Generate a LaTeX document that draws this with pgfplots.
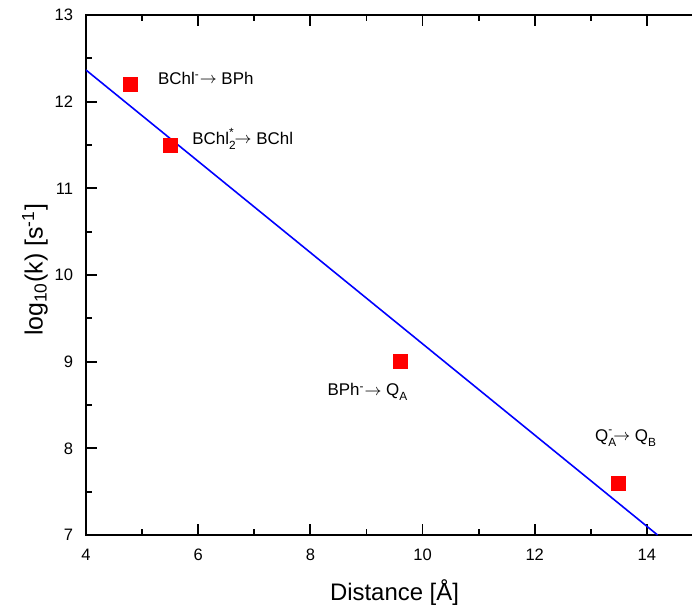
\documentclass[border=0pt]{standalone}
\usepackage{fontspec}
\setmainfont{Liberation Sans}
\usepackage{pgfplots}
\pgfplotsset{compat=1.18}
\usetikzlibrary{calc}

\newcommand{\arr}{\raisebox{0.1ex}{$\rightarrow$}}

\begin{document}
\begin{tikzpicture}
\begin{axis}[
    name=main,
    scale only axis,
    width=308.5bp,
    height=260bp,
    xmin=4, xmax=15,
    ymin=7, ymax=13,
    xtick={4,6,...,14},
    ytick={7,8,...,13},
    minor x tick num=1,
    minor y tick num=1,
    tick align=inside,
    xtick pos=both,
    ytick pos=left,
    major tick length=5.5bp,
    minor tick length=3bp,
    axis line style={line width=0.9pt},
    every tick/.style={black, line width=0.9pt},
    /pgf/number format/assume math mode=true,
    ticklabel style={font=\fontsize{8.3}{10}\selectfont},
    xticklabel style={yshift=-3.3bp},
    yticklabel style={xshift=-3bp},
    xlabel={Distance [Å]},
    ylabel={log\textsubscript{10}(k) [s\textsuperscript{-1}]},
    label style={font=\fontsize{12}{14.4}\selectfont},
    xlabel style={at={(axis description cs:0.5,-0.1115)}, anchor=center},
    ylabel style={at={(axis description cs:-0.0827,0.51)}, anchor=center, rotate=0, font=\fontsize{12.5}{15}\selectfont},
    clip=true,
]
\addplot[blue, line width=0.8pt] coordinates {(4,12.365) (14.19,7)};
\addplot[only marks, mark=square*, mark size=3.5bp, color=red] coordinates {
  (4.8,12.2) (5.5,11.5) (9.6,9.0) (13.5,7.6)
};
\begin{scope}[every node/.style={font=\fontsize{8.5}{10}\selectfont, inner sep=0pt, anchor=west}]
\node at (axis cs:5.28,12.27) {BChl\textsuperscript{-}\arr\ BPh};
\node at (axis cs:5.89,11.57) {BChl\rlap{\raisebox{-0.2ex}{\textsubscript{2}}}\raisebox{0.3ex}{\textsuperscript{*}}\arr\ BChl};
\node at (axis cs:8.30,8.65) {BPh\textsuperscript{-}\arr\ Q\raisebox{-0.2ex}{\textsubscript{A}}};
\node at (axis cs:13.07,8.12) {Q\rlap{\raisebox{-0.2ex}{\textsubscript{A}}}\raisebox{0.3ex}{\textsuperscript{-}}\arr\ Q\raisebox{-0.2ex}{\textsubscript{B}}};
\end{scope}
\end{axis}
\pgfresetboundingbox
\path[use as bounding box] ($(main.south west)+(-43bp,-36bp)$) rectangle ($(main.south west)+(303bp,267.5bp)$);
\end{tikzpicture}
\end{document}
